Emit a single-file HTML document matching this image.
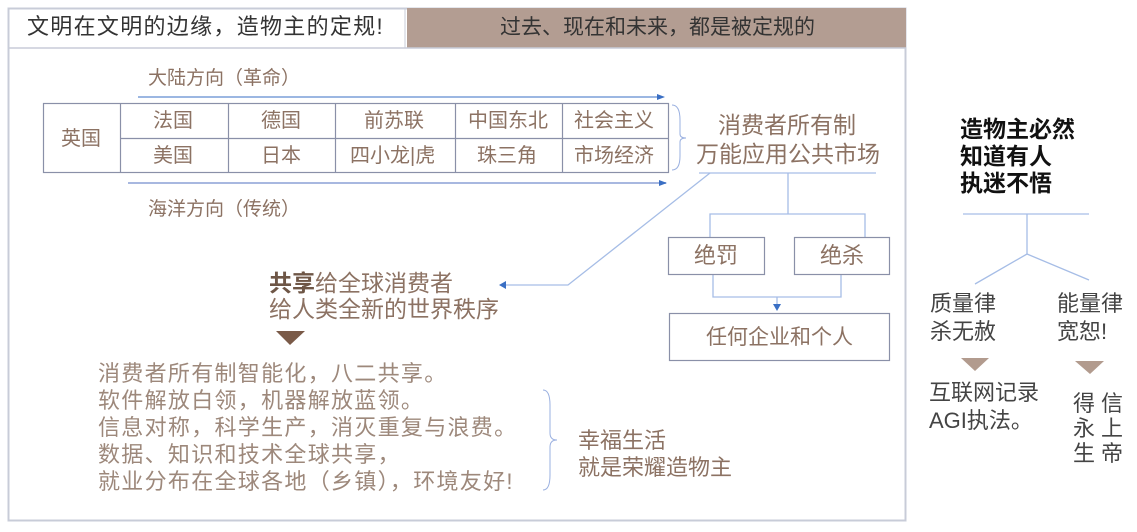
<!DOCTYPE html>
<html><head><meta charset="utf-8"><style>
body{margin:0;width:1137px;height:532px;background:#fff;position:relative;overflow:hidden;font-family:"Liberation Sans","Noto Sans CJK SC",sans-serif}
.t{position:absolute;white-space:nowrap;line-height:1}
.b{color:#8c7263}
.l{color:#9d887b}
</style></head><body>
<svg width="1137" height="532" style="position:absolute;left:0;top:0">
<defs><marker id="a" markerWidth="8" markerHeight="8" refX="7" refY="4" orient="auto" markerUnits="userSpaceOnUse"><path d="M0,1 L8,4 L0,7z" fill="#3a6fc4"/></marker></defs>
<rect x="8.5" y="8.5" width="897" height="512" fill="none" stroke="#c8ccd8" stroke-width="2"/>
<rect x="407" y="8" width="499" height="40" fill="#b39d92"/>
<line x1="8" y1="48" x2="906" y2="48" stroke="#c8ccd8" stroke-width="1.5"/>
<line x1="405" y1="8" x2="405" y2="48" stroke="#c8ccd8"/>
<g stroke="#8a90a8" stroke-width="1.2" fill="none">
<rect x="43.5" y="103.5" width="625" height="69"/>
<line x1="120.5" y1="103" x2="120.5" y2="172"/>
<line x1="228.5" y1="103" x2="228.5" y2="172"/>
<line x1="335.5" y1="103" x2="335.5" y2="172"/>
<line x1="455.5" y1="103" x2="455.5" y2="172"/>
<line x1="562.5" y1="103" x2="562.5" y2="172"/>
<line x1="120" y1="138.5" x2="668" y2="138.5"/>
</g>
<line x1="138" y1="97" x2="664" y2="97" stroke="#3a6fc4" stroke-width="1" marker-end="url(#a)"/>
<line x1="128" y1="183" x2="666" y2="183" stroke="#a8b8e0" stroke-width="2" marker-end="url(#a)"/>
<path d="M672,105 Q680,105 680,120 L680,134 Q680,138 686,138 Q680,138 680,142 L680,156 Q680,170 672,170" fill="none" stroke="#9ab0e0" stroke-width="1"/>
<g stroke="#a6bde6" stroke-width="1.3" fill="none">
<line x1="699" y1="173" x2="876" y2="173"/>
<line x1="788" y1="173" x2="788" y2="214"/>
<polyline points="710,237 710,214 865,214 865,237"/>
<polyline points="713,274 713,297 841,297 841,274"/>
<line x1="777" y1="297" x2="777" y2="308"/>
<polyline points="710,173 568,285 505,285"/>
<line x1="963" y1="214" x2="1089" y2="214"/>
<polyline points="1027,214 1027,254"/>
<polyline points="975,284 1027,254 1089,280"/>
</g>
<path d="M773,304 L781,304 L777,311z" fill="#3a6fc4"/>
<path d="M506,281 L499,285 L506,289z" fill="#3a6fc4"/>
<g fill="none" stroke="#8a90a8" stroke-width="1.2">
<rect x="668.5" y="237.5" width="96" height="37"/>
<rect x="794.5" y="237.5" width="95" height="37"/>
<rect x="669.5" y="313.5" width="220" height="47"/>
</g>
<path d="M543,390 Q550,390 550,405 L550,433 Q550,440 557,440 Q550,440 550,447 L550,475 Q550,490 543,490" fill="none" stroke="#9ab0e0" stroke-width="1"/>
<path d="M276,331 L305,331 L290,345z" fill="#7a5a48"/>
<path d="M961,358 L989,358 L975,371z" fill="#b29b8e"/>
<path d="M1075,361 L1104,361 L1090,374z" fill="#b29b8e"/>
</svg>
<div class="t" style="left:27px;top:16px;font-size:22px;color:#333;letter-spacing:1.3px">文明在文明的边缘，造物主的定规!</div>
<div class="t" style="left:500px;top:17px;font-size:21px;color:#333">过去、现在和未来，都是被定规的</div>
<div class="t b" style="left:148px;top:69px;font-size:19px">大陆方向（革命）</div>
<div class="t b" style="left:148px;top:200px;font-size:19px">海洋方向（传统）</div>
<div class="t b" style="left:61px;top:129px;font-size:20px">英国</div>
<div class="t b" style="left:153px;top:111px;font-size:20px">法国</div>
<div class="t b" style="left:153px;top:146px;font-size:20px">美国</div>
<div class="t b" style="left:261px;top:111px;font-size:20px">德国</div>
<div class="t b" style="left:261px;top:146px;font-size:20px">日本</div>
<div class="t b" style="left:364px;top:111px;font-size:20px">前苏联</div>
<div class="t b" style="left:350px;top:146px;font-size:20px">四小龙|虎</div>
<div class="t b" style="left:468px;top:111px;font-size:20px">中国东北</div>
<div class="t b" style="left:477px;top:146px;font-size:20px">珠三角</div>
<div class="t b" style="left:574px;top:111px;font-size:20px">社会主义</div>
<div class="t b" style="left:574px;top:146px;font-size:20px">市场经济</div>
<div class="t b" style="left:718px;top:114px;font-size:23px">消费者所有制</div>
<div class="t b" style="left:696px;top:143px;font-size:23px">万能应用公共市场</div>
<div class="t b" style="left:694px;top:245px;font-size:22px">绝罚</div>
<div class="t b" style="left:820px;top:245px;font-size:22px">绝杀</div>
<div class="t b" style="left:706px;top:327px;font-size:21px">任何企业和个人</div>
<div class="t b" style="left:269px;top:272px;font-size:23px"><b style="color:#6e5646">共享</b>给全球消费者</div>
<div class="t b" style="left:269px;top:298px;font-size:23px">给人类全新的世界秩序</div>
<div class="t l" style="left:98px;top:360px;font-size:22px;line-height:27px;letter-spacing:1.3px">消费者所有制智能化，八二共享。<br>软件解放白领，机器解放蓝领。<br>信息对称，科学生产，消灭重复与浪费。<br>数据、知识和技术全球共享，<br>就业分布在全球各地（乡镇），环境友好!</div>
<div class="t b" style="left:578px;top:427px;font-size:22px;line-height:27px">幸福生活<br>就是荣耀造物主</div>
<div class="t" style="left:960px;top:116px;font-size:23px;font-weight:bold;color:#111;line-height:27px">造物主必然<br>知道有人<br>执迷不悟</div>
<div class="t" style="left:930px;top:290px;font-size:22px;color:#444;line-height:28px">质量律<br>杀无赦</div>
<div class="t" style="left:1057px;top:290px;font-size:22px;color:#444;line-height:28px">能量律<br>宽恕!</div>
<div class="t" style="left:929px;top:379px;font-size:22px;color:#444;line-height:28px">互联网记录<br>AGI执法。</div>
<div class="t" style="left:1073px;top:391px;font-size:22px;color:#444;line-height:25px;width:22px;white-space:normal">得永生</div>
<div class="t" style="left:1101px;top:391px;font-size:22px;color:#444;line-height:25px;width:22px;white-space:normal">信上帝</div>
</body></html>
